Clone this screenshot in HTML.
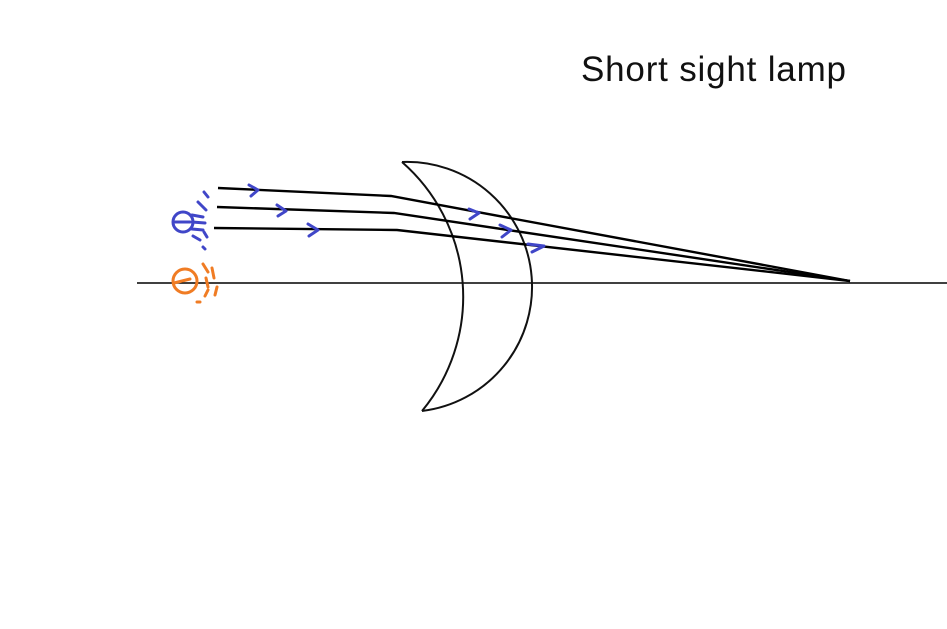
<!DOCTYPE html>
<html><head><style>
html,body{margin:0;padding:0;background:#fff;width:947px;height:629px;overflow:hidden}
</style></head><body>
<svg width="947" height="629" viewBox="0 0 947 629" xmlns="http://www.w3.org/2000/svg">
<text x="581" y="81" font-family="Liberation Sans, sans-serif" font-size="35" fill="#111" textLength="265">Short sight lamp</text>
<line x1="137" y1="283" x2="947" y2="283" stroke="#000" stroke-width="1.5"/>
<g fill="none" stroke="#111" stroke-width="2">
<path d="M402 162 A125 125 0 0 1 422 411"/>
<path d="M402 162 A179 179 0 0 1 422 411"/>
</g>
<g fill="none" stroke="#000" stroke-width="2.4">
<path d="M218 188 L391 196 L850 281"/>
<path d="M217 207 L394 213 L850 281"/>
<path d="M214 228 L397 230 L850 281"/>
</g>
<g fill="none" stroke="#4046c8" stroke-width="3" stroke-linecap="round" stroke-linejoin="round">
<path d="M249 185 L258 190 L251 196"/>
<path d="M277 205 L286 211 L278 216"/>
<path d="M308 224 L318 230 L309 236"/>
<path d="M469 209 L479 213 L470 219"/>
<path d="M500 225 L511 230 L502 237"/>
<path d="M528 244 L544 246 L532 252"/>
<circle cx="183" cy="222" r="10"/>
<path d="M175 222 H190"/>
<path d="M192 215 L203 217 M192 222 L205 223 M192 229 L203 230"/>
<path d="M198 202 L206 210 M204 192 L208 197 M193 236 L200 240 M204 232 L207 237 M203 247 L205 249"/>
</g>
<g fill="none" stroke="#f07c24" stroke-width="3" stroke-linecap="round">
<circle cx="185" cy="281" r="12"/>
<path d="M174 283 L190 279"/>
<path d="M203 264 L208 272 M206 278 L208 287 M212 268 L214 278 M208 290 L205 296 M217 287 L215 295 M197 302 L200 302"/>
</g>
</svg>
</body></html>
